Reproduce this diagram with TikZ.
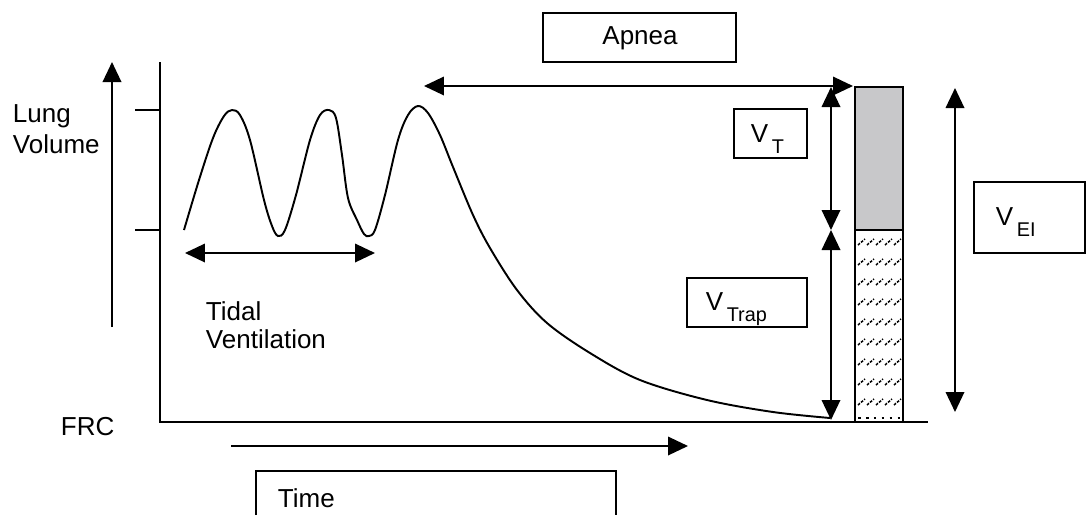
\documentclass[tikz,border=0pt]{standalone}
\usepackage{fontspec}
\setmainfont{Liberation Sans}
\usetikzlibrary{arrows.meta}

\definecolor{vtgray}{RGB}{200,200,202}
\newcommand{\volsub}[1]{V\kern2pt\raisebox{-6.5pt}{\fontsize{11.3}{11}\selectfont #1}}

\begin{document}
\begin{tikzpicture}[x=0.02cm,y=-0.02cm,line width=1.1pt,
  every node/.style={font=\fontsize{14.8}{17}\selectfont,inner sep=0pt},
  twoway/.style={{Triangle[length=0.4cm,width=0.37cm]}-{Triangle[length=0.4cm,width=0.37cm]}},
  oneway/.style={-{Triangle[length=0.4cm,width=0.37cm]}},
  hatch/.style={line width=0.85pt,dash pattern=on 1.5pt off 0.8pt}]

\useasboundingbox (0,0) rectangle (1086,515);

% Lung volume arrow
\coordinate (volbot) at (112,327);
\coordinate (voltop) at (112,62);
\draw[oneway] (volbot) -- (voltop);
\node[anchor=base west] (lung) at (12,122) {Lung};
\node[anchor=base west] (volume) at (12,153) {Volume};

% Axes
\coordinate (ytop) at (160,62);
\coordinate (origin) at (160,422);
\coordinate (xend) at (928,422);
\draw (ytop) -- (origin) -- (xend);

% Tick marks
\foreach \y in {110,230}
{
  \draw (135,\y) -- (160,\y);
}
\node[anchor=base west] (frc) at (60,435) {FRC};

% Time arrow
\coordinate (tstart) at (231,446);
\coordinate (tend) at (688,446);
\draw[oneway] (tstart) -- (tend);
\draw (256,515) |- (616,471) -- (616,515);
\node[anchor=base west] (time) at (277,507) {Time};

% Breathing and apnea curve
\draw plot[smooth,tension=0.55] coordinates {
  (184,230) (199,180) (213,138) (224,116) (232,110) (240,115) (250,140)
  (264,200) (272,226) (278,236) (285,230) (296,195) (310,140) (320,115)
  (329,110) (336,118) (342,155) (348,198) (357,220) (364,234) (369,236)
  (375,230) (385,195) (398,140) (408,115) (418,106) (428,113) (440,135)
  (453,167) (473,215) (490,248) (517,290) (547,323) (590,353) (640,380)
  (707,400) (773,412) (830,418)};

% Tidal ventilation
\coordinate (tidL) at (185,253);
\coordinate (tidR) at (375,253);
\draw[twoway] (tidL) -- (tidR);
\node[anchor=base west] (tidal) at (205,320) {Tidal};
\node[anchor=base west] (vent) at (205,348) {Ventilation};

% Apnea
\draw (543,13) rectangle (736,62);
\node (apnea) at (640,38) {Apnea};
\coordinate (apL) at (424,86);
\coordinate (apR) at (853,86);
\draw[twoway] (apL) -- (apR);

% Volume bar
\draw[fill=vtgray] (855,87) rectangle (903,230);
\foreach \y in {242,262,...,402}
{
  \foreach \x in {858,867,...,894}
  {
    \draw[hatch] (\x,\y+3) -- (\x+7,\y-3);
  }
}
\draw[line width=0.7pt,dash pattern=on 1.5pt off 3pt] (858,418) -- (901,418);
\draw (855,230) rectangle (903,422);

% V_T and V_Trap
\coordinate (vttop) at (831,87);
\coordinate (vtmid) at (831,230);
\coordinate (vtbot) at (831,420);
\draw[twoway] (vttop) -- (vtmid);
\draw[twoway] (vtmid) -- (vtbot);
\draw (734,109) rectangle (807,158);
\node[anchor=base west] (vt) at (750,142) {\volsub{T}};
\draw (687,278) rectangle (807,327);
\node[anchor=base west] (vtrap) at (705,310) {\volsub{Trap}};

% V_EI
\coordinate (eitop) at (955,88);
\coordinate (eibot) at (955,412);
\draw[twoway] (eitop) -- (eibot);
\draw (974,182) rectangle (1085,253);
\node[anchor=base west] (vei) at (995,225) {\volsub{EI}};

\end{tikzpicture}
\end{document}
